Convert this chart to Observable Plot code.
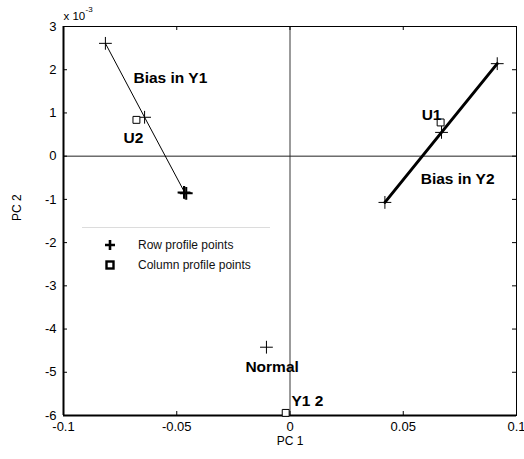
<!DOCTYPE html>
<html><head><meta charset="utf-8">
<script src="https://cdn.jsdelivr.net/npm/d3@7"></script>
<script src="https://cdn.jsdelivr.net/npm/@observablehq/plot@0.6"></script>
<style>
body{margin:0;background:#fff;font-family:"Liberation Sans",Arial,sans-serif;}
#wrap{position:relative;width:524px;height:459px;}
#legend{position:absolute;left:82px;top:227px;width:188px;height:50px;border-top:1px solid #dcdcdc;font-size:12px;color:#111;}
.item{position:absolute;left:0;height:14px;line-height:14px;white-space:nowrap;}
.item svg{position:absolute;left:22px;top:1px;}
.item span{position:absolute;left:56px;top:0;}
</style>
</head><body>
<div id="wrap"><div id="legend"></div></div>
<script>
// axis ticks
const xDomain = [-0.1, 0.1];
const yDomain = [-6, 3];
const xTicks = [-0.1, -0.05, 0, 0.05, 0.1];
const xTickLabels = ["-0.1", "-0.05", "0", "0.05", "0.1"];
const yTicks = [3, 2, 1, 0, -1, -2, -3, -4, -5, -6];
const yTickLabels = ["3", "2", "1", "0", "-1", "-2", "-3", "-4", "-5", "-6"];

// row profile points (PC1, PC2 x 10^-3)
const biasY1X = [-0.0815, -0.0642, -0.0464];
const biasY1Y = [2.61, 0.90, -0.85];
const biasY1ExtraX = [-0.0468, -0.0458];
const biasY1ExtraY = [-0.84, -0.86];
const biasY2X = [0.0419, 0.0669, 0.0915];
const biasY2Y = [-1.07, 0.55, 2.14];
const normalX = [-0.0104];
const normalY = [-4.42];

// column profile points
const colNames = ["U1", "U2", "Y1 2"];
const colX = [0.0665, -0.0678, -0.0019];
const colY = [0.78, 0.84, -5.94];

// annotation labels
const labelText = ["Bias in Y1", "U2", "Bias in Y2", "U1", "Normal", "Y1 2"];
const labelX = [-0.0528, -0.0691, 0.0740, 0.0625, -0.0079, 0.0077];
const labelY = [1.80, 0.42, -0.53, 0.95, -4.87, -5.67];

const legendLabels = ["Row profile points", "Column profile points"];

const zip = (xs, ys) => xs.map((x, i) => ({x, y: ys[i]}));
const rowsY1 = zip(biasY1X, biasY1Y);
const rowsY1Extra = zip(biasY1ExtraX, biasY1ExtraY);
const rowsY2 = zip(biasY2X, biasY2Y);
const rowsNormal = zip(normalX, normalY);
const cols = colNames.map((n, i) => ({name: n, x: colX[i], y: colY[i]}));
const labels = labelText.map((t, i) => ({text: t, x: labelX[i], y: labelY[i]}));

const W = 524, H = 459, ML = 63, MR = 8, MT = 26, MB = 44;
const PH = H - MT - MB, PW = W - ML - MR, TK = 4;
const font = "Liberation Sans, Arial, sans-serif";

const chart = Plot.plot({
  width: W, height: H,
  marginLeft: ML, marginRight: MR, marginTop: MT, marginBottom: MB,
  x: {domain: xDomain},
  y: {domain: yDomain},
  style: {fontFamily: font, fontSize: "13px", background: "white", color: "black", overflow: "visible"},
  marks: [
    Plot.ruleX([0], {stroke: "#7a7a7a", strokeWidth: 1.5}),
    Plot.ruleY([0], {stroke: "#222", strokeWidth: 1}),
    // inward ticks
    Plot.ruleX(xTicks, {insetTop: PH - TK, stroke: "black"}),
    Plot.ruleX(xTicks, {insetBottom: PH - TK, stroke: "black"}),
    Plot.ruleY(yTicks, {insetRight: PW - TK, stroke: "black"}),
    Plot.ruleY(yTicks, {insetLeft: PW - TK, stroke: "black"}),
    Plot.frame({stroke: "black", strokeWidth: 1}),
    Plot.ruleX([xDomain[0]], {stroke: "black", strokeWidth: 2}),
    Plot.ruleY([yDomain[0]], {stroke: "black", strokeWidth: 2}),
    Plot.axisX(xTicks, {anchor: "bottom", tickSize: 0, tickPadding: 6, fontSize: 13, label: null,
      tickFormat: d => xTickLabels[xTicks.indexOf(d)]}),
    Plot.axisY(yTicks, {anchor: "left", tickSize: 0, tickPadding: 7, fontSize: 13, label: null,
      tickFormat: d => yTickLabels[yTicks.indexOf(d)]}),
    // lines
    Plot.line(rowsY1, {x: "x", y: "y", stroke: "black", strokeWidth: 1}),
    Plot.line(rowsY2, {x: "x", y: "y", stroke: "black", strokeWidth: 3}),
    // row points
    Plot.dot([...rowsY1, ...rowsY2, ...rowsNormal], {x: "x", y: "y", symbol: "plus", r: 4.2, stroke: "black", strokeWidth: 1}),
    Plot.dot(rowsY1Extra, {x: "x", y: "y", symbol: "plus", r: 4.2, stroke: "black", strokeWidth: 2}),
    // column points
    Plot.dot(cols, {x: "x", y: "y", symbol: "square", r: 3.9, stroke: "black", fill: "white", strokeWidth: 1}),
    // annotations
    Plot.text(labels, {x: "x", y: "y", text: "text", fontSize: 15.5, fontWeight: "bold", fill: "black"}),
    // axis titles
    Plot.text(["PC 1"], {frameAnchor: "bottom", dy: 29, fontSize: 12, fill: "black"}),
    Plot.text(["PC 2"], {frameAnchor: "left", dx: -46, rotate: -90, fontSize: 12, fill: "black"}),
    // exponent
    Plot.text(["x 10"], {frameAnchor: "top-left", textAnchor: "start", lineAnchor: "bottom", dy: -7, dx: 0, fontSize: 11.5, fill: "black"}),
    Plot.text(["-3"], {frameAnchor: "top-left", textAnchor: "start", lineAnchor: "bottom", dy: -15, dx: 22, fontSize: 8, fill: "black"})
  ]
});
const wrap = document.getElementById("wrap");
wrap.insertBefore(chart, wrap.firstChild);

// legend
const legend = document.getElementById("legend");
const symbols = [
  '<svg width="12" height="12"><path d="M6,1V11M1,6H11" stroke="black" stroke-width="2.6"/></svg>',
  '<svg width="12" height="12"><rect x="2.5" y="2.5" width="7" height="7" fill="white" stroke="black" stroke-width="2.4"/></svg>'
];
legendLabels.forEach((t, i) => {
  const d = document.createElement("div");
  d.className = "item";
  d.style.top = (10 + i * 20) + "px";
  d.innerHTML = symbols[i] + "<span></span>";
  d.querySelector("span").textContent = t;
  legend.appendChild(d);
});
</script>
</body></html>
